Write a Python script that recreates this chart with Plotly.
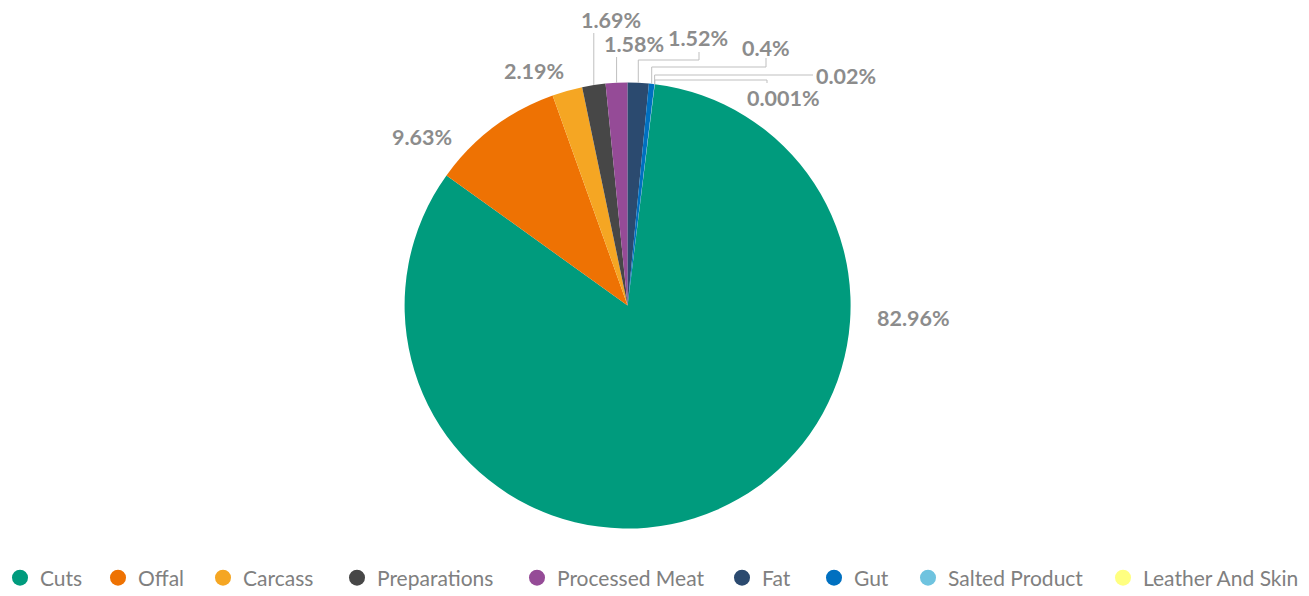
import math
import plotly.graph_objects as go

# ---------------- data ----------------
categories = ["Cuts", "Offal", "Carcass", "Preparations", "Processed Meat",
              "Fat", "Gut", "Salted Product", "Leather And Skin"]
shares = [82.96, 9.63, 2.19, 1.69, 1.58, 1.52, 0.4, 0.02, 0.001]
value_labels = ["82.96%", "9.63%", "2.19%", "1.69%", "1.58%", "1.52%",
                "0.4%", "0.02%", "0.001%"]

# ---------------- style ----------------
colors = ["#009B7D", "#EE7203", "#F5A623", "#474747", "#954B97",
          "#2B4A6F", "#0070C0", "#6FC3DF", "#FFFF80"]
W, H = 1309, 596
CX, CY, R = 627.6, 305.5, 223.0      # pixel geometry of the pie
ROTATION = 7.0
FONT = "Lato"
LABEL_COLOR = "#8C8C8C"
LEGEND_COLOR = "#808080"
LINE_COLOR = "#BFBFBF"

# label placement: ("free", cx, cy) or ("leader", elbow_y, hx, vy, text_cx, text_cy)
label_style = [
    ("free", 913, 318),
    ("free", 422, 137),
    ("free", 534, 71),
    ("leader", 33, None, None, 611, 20),
    ("leader", 57, None, None, 634, 44),
    ("leader", 60, 699, 52, 698, 38),
    ("leader", 67, 766, 58, 766, 48),
    ("leader", 75, 813, None, 846, 76),
    ("leader", 80, 767, 83, 783, 98),
]
legend_symbol_x = [17, 122, 227, 361, 541, 746, 838, 932, 1127]
LEGEND_Y = 578
LEGEND_SYMBOL_OFFSET = 20   # plotly draws the symbol ~20px into the legend box
LEGEND_SHIFT = -4           # compromise for plotly's wider symbol/text gap


def px(x):
    return x / W


def py(y):
    return 1 - y / H


fig = go.Figure()
fig.add_trace(go.Pie(
    labels=categories, values=shares, sort=False, direction="clockwise",
    rotation=ROTATION, textinfo="none", hoverinfo="label+percent",
    marker=dict(colors=colors, line=dict(width=0)),
    domain=dict(x=[px(CX - R), px(CX + R)], y=[py(CY + R), py(CY - R)]),
    showlegend=False,
))

# slice mid angles from data
total = sum(shares)
mids = []
acc = 0.0
for v in shares:
    a0 = ROTATION + acc / total * 360
    acc += v
    a1 = ROTATION + acc / total * 360
    mids.append((a0 + a1) / 2)

annotations = []
shapes = []
for i, (lab, st) in enumerate(zip(value_labels, label_style)):
    if st[0] == "free":
        tx, ty = st[1], st[2]
    else:
        _, ey, hx, vy, tx, ty = st
        ang = math.radians(mids[i])
        sx = CX + R * math.sin(ang)
        sy = CY - R * math.cos(ang)
        path = f"M {px(sx)},{py(sy)} L {px(sx)},{py(ey)}"
        if hx is not None:
            path += f" L {px(hx)},{py(ey)}"
            if vy is not None:
                path += f" L {px(hx)},{py(vy)}"
        shapes.append(dict(type="path", xref="paper", yref="paper", path=path,
                           line=dict(color=LINE_COLOR, width=1)))
    annotations.append(dict(
        x=px(tx), y=py(ty), xref="paper", yref="paper", text=lab,
        showarrow=False, xanchor="center", yanchor="middle",
        font=dict(family=FONT, size=21.5, color=LABEL_COLOR, weight="bold"),
    ))

# legend: one legend per entry so entries sit where the reference has them
layout_legends = {}
for i, (name, col, lx) in enumerate(zip(categories, colors, legend_symbol_x)):
    key = "legend" if i == 0 else f"legend{i + 1}"
    fig.add_trace(go.Scatter(
        x=[None], y=[None], mode="markers", name=name,
        marker=dict(symbol="circle", size=16, color=col),
        legend=key, showlegend=True, hoverinfo="skip",
    ))
    layout_legends[key] = dict(
        x=max(0.0, px(lx + LEGEND_SHIFT - LEGEND_SYMBOL_OFFSET)), y=py(LEGEND_Y),
        xref="container", yref="container",
        xanchor="left", yanchor="middle",
        orientation="h", bgcolor="rgba(0,0,0,0)", borderwidth=0,
        font=dict(family=FONT, size=21, color=LEGEND_COLOR),
        itemclick=False, itemdoubleclick=False,
    )

fig.update_layout(
    width=W, height=H,
    margin=dict(l=0, r=0, t=0, b=0, autoexpand=False),
    paper_bgcolor="white", plot_bgcolor="white",
    xaxis=dict(visible=False), yaxis=dict(visible=False),
    annotations=annotations, shapes=shapes,
    **layout_legends,
)

fig.write_html("out.html",
               config={"displayModeBar": False},
               post_script="document.body.style.margin='0';")
